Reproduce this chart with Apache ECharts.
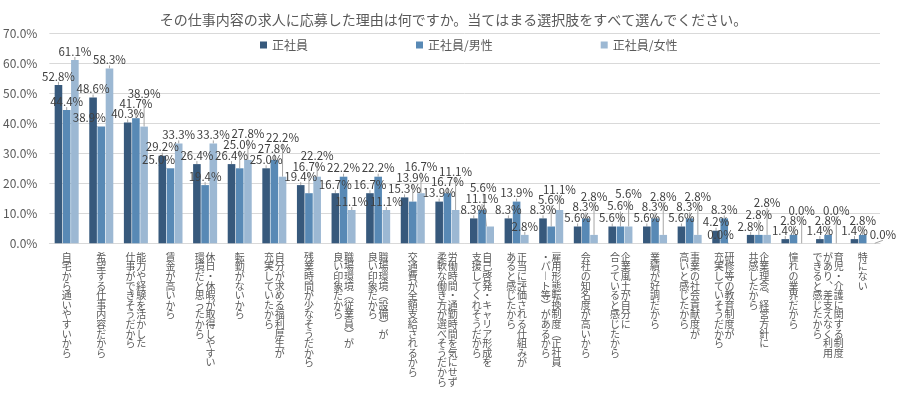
<!DOCTYPE html>
<html>
<head>
<meta charset="utf-8">
<script src="https://cdn.jsdelivr.net/npm/echarts@6/dist/echarts.min.js"></script>
<style>
html,body{margin:0;padding:0;background:#fff;}
#chart{width:907px;height:393px;}
</style>
</head>
<body>
<div id="chart"></div>
<script>
// Categories: "\n" separates vertical columns (first column is the rightmost)
const categories = [
  '自宅から通いやすいから',
  '希望する仕事内容だから',
  '能力や経験を活かした\n仕事ができそうだから',
  '賃金が高いから',
  '休日・休暇が取得しやすい\n環境だと思ったから',
  '転勤がないから',
  '自分が求める福利厚生が\n充実していたから',
  '残業時間が少なそうだから',
  '職場環境（従業員）が\n良い印象だから',
  '職場環境（設備）が\n良い印象だから',
  '交通費が全額支給されるから',
  '労働時間・通勤時間を気にせず\n柔軟な働き方が選べそうだから',
  '自己啓発・キャリア形成を\n支援してくれそうだから',
  '正当に評価される仕組みが\nあると感じたから',
  '雇用形態転換制度（正社員\n・パート等）があるから',
  '会社の知名度が高いから',
  '企業風土が自分に\n合っていると感じたから',
  '業績が好調だから',
  '事業の社会貢献度が\n高いと感じたから',
  '研修等の教育制度が\n充実していそうだから',
  '企業理念、経営方針に\n共感したから',
  '憧れの業界だから',
  '育児・介護に関する制度\nがあり、差支えなく利用\nできると感じたから',
  '特にない'
];
const seriesNames = ['正社員', '正社員/男性', '正社員/女性'];
const allEmployees = [52.8, 48.6, 40.3, 29.2, 26.4, 26.4, 25.0, 19.4, 16.7, 16.7, 15.3, 13.9, 8.3, 8.3, 8.3, 5.6, 5.6, 5.6, 5.6, 4.2, 2.8, 1.4, 1.4, 1.4];
const maleEmployees = [44.4, 38.9, 41.7, 25.0, 19.4, 25.0, 27.8, 16.7, 22.2, 22.2, 13.9, 16.7, 11.1, 13.9, 5.6, 8.3, 5.6, 8.3, 8.3, 8.3, 2.8, 2.8, 2.8, 2.8];
const femaleEmployees = [61.1, 58.3, 38.9, 33.3, 33.3, 27.8, 22.2, 22.2, 11.1, 11.1, 16.7, 11.1, 5.6, 2.8, 11.1, 2.8, 5.6, 2.8, 2.8, 0.0, 2.8, 0.0, 0.0, 0.0];
const yTicks = [0, 10, 20, 30, 40, 50, 60, 70];
const titleText = 'その仕事内容の求人に応募した理由は何ですか。当てはまる選択肢をすべて選んでください。';

const FONT = '"Noto Sans CJK JP", "Noto Sans", sans-serif';
const colors = ['#37597c', '#5889b5', '#9cb8d3'];
const vmap = {'（': '︵', '）': '︶', 'ー': '︱', '、': '︑'};

function toVertical(label) {
  const cols = label.split('\n').map(s => Array.from(s));
  const n = Math.max.apply(null, cols.map(c => c.length));
  const rev = cols.slice().reverse();
  const rows = [];
  for (let i = 0; i < n; i++) {
    let row = '';
    for (const c of rev) {
      let ch = c[i] || '　';
      ch = vmap[ch] || ch;
      row += '{c|' + ch + '}';
    }
    rows.push(row);
  }
  return rows.join('\n');
}

// greedy label placement to avoid overlapping data labels (Excel-like staggering)
let placed = [];
function overlaps(r) {
  for (const p of placed) {
    if (r.x < p.x + p.width + 1 && r.x + r.width + 1 > p.x &&
        r.y < p.y + p.height && r.y + r.height > p.y) return true;
  }
  return false;
}
function placeLabel(params) {
  if (params.seriesIndex === 0 && params.dataIndex === 0) placed = [];
  const lr = params.labelRect;
  const dxs = [0, -7, 7, -12, 12];
  for (let step = 0; step < 30; step++) {
    const dy = -step * 3;
    for (const dx of dxs) {
      const r = {x: lr.x + dx, y: lr.y + dy, width: lr.width, height: lr.height - 2};
      if (!overlaps(r)) {
        placed.push(r);
        return {dx: dx, dy: dy};
      }
    }
  }
  placed.push({x: lr.x, y: lr.y, width: lr.width, height: lr.height});
  return {};
}

const chart = echarts.init(document.getElementById('chart'), null, {renderer: 'canvas'});
const dataSets = [allEmployees, maleEmployees, femaleEmployees];

chart.setOption({
  animation: false,
  color: colors,
  textStyle: {fontFamily: FONT},
  title: {
    text: titleText,
    left: 'center',
    top: 8,
    textStyle: {fontSize: 14, fontWeight: 'normal', color: '#595959', fontFamily: FONT}
  },
  legend: {
    data: seriesNames,
    left: 255,
    top: 34,
    icon: 'rect',
    itemWidth: 7,
    itemHeight: 7,
    itemGap: 108,
    textStyle: {fontSize: 12, color: '#595959', fontFamily: FONT}
  },
  grid: {left: 48, right: 27, top: 33.3, bottom: 149.7, containLabel: false},
  xAxis: {
    type: 'category',
    data: categories,
    axisLine: {lineStyle: {color: '#d9d9d9'}},
    axisTick: {show: false},
    axisLabel: {
      interval: 0,
      margin: 9,
      verticalAlign: 'top',
      formatter: v => toVertical(v),
      rich: {
        c: {width: 10.7, align: 'center', fontSize: 10, lineHeight: 9.6, color: '#595959', fontFamily: FONT}
      }
    }
  },
  yAxis: {
    type: 'value',
    min: yTicks[0],
    max: yTicks[yTicks.length - 1],
    interval: 10,
    axisLine: {show: false},
    axisTick: {show: false},
    splitLine: {lineStyle: {color: '#d9d9d9'}},
    axisLabel: {
      margin: 12,
      fontSize: 12,
      color: '#595959',
      fontFamily: FONT,
      formatter: v => v.toFixed(1) + '%'
    }
  },
  series: seriesNames.map((name, i) => ({
    name: name,
    type: 'bar',
    data: dataSets[i],
    barWidth: 7.6,
    barGap: '8%',
    label: {
      show: true,
      position: 'top',
      distance: 3,
      fontSize: 11.5,
      color: '#404040',
      fontFamily: FONT,
      formatter: p => p.value.toFixed(1) + '%'
    },
    labelLine: {show: true, lineStyle: {color: '#a6a6a6', width: 1}},
    labelLayout: placeLabel
  }))
});
</script>
</body>
</html>
